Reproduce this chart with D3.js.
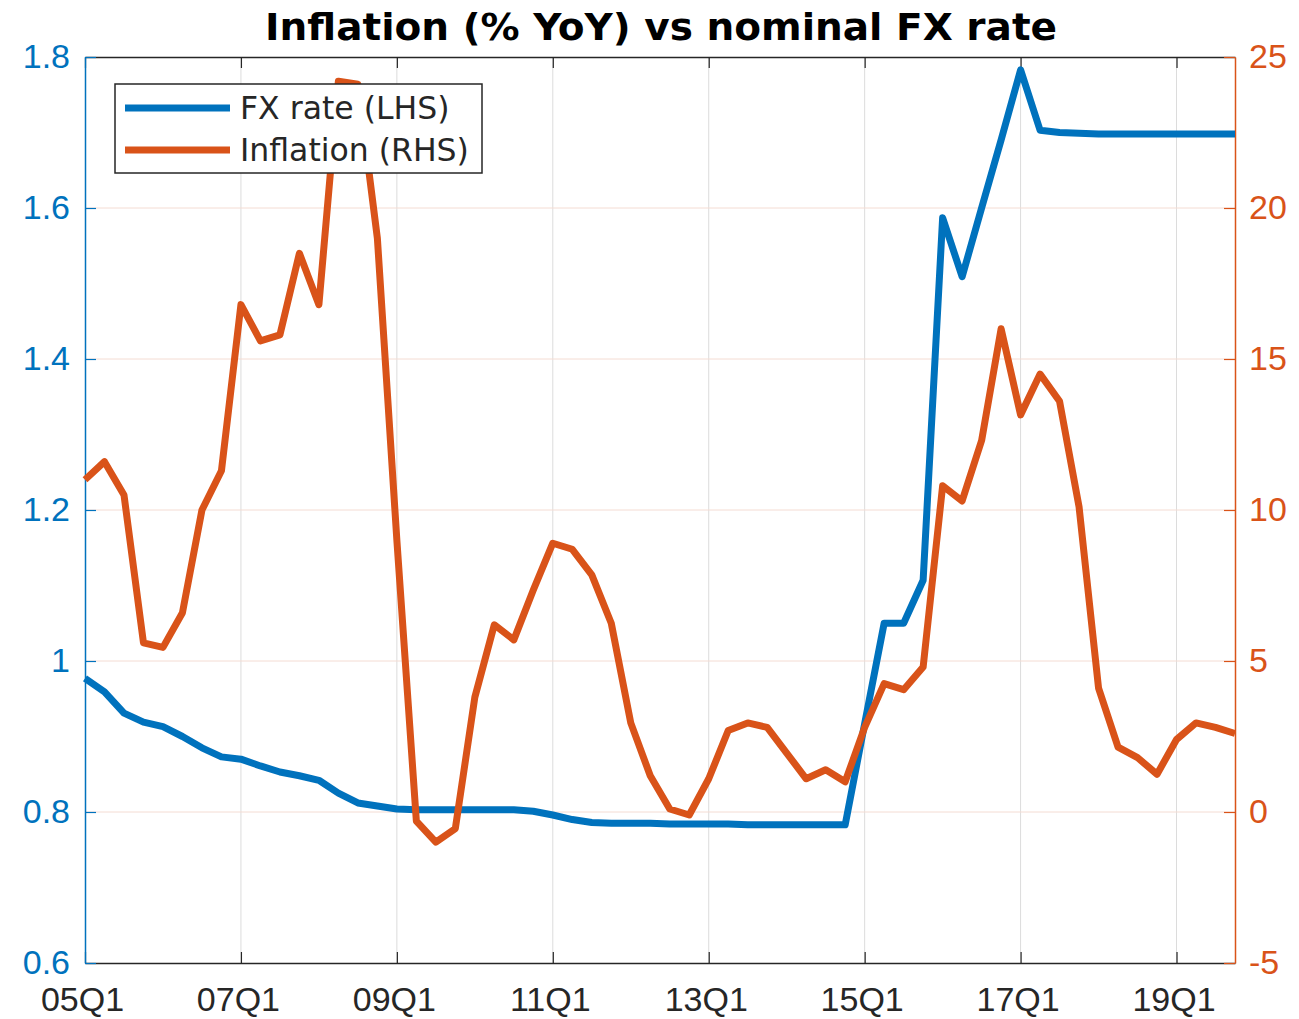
<!DOCTYPE html>
<html>
<head>
<meta charset="utf-8">
<script src="https://cdn.jsdelivr.net/npm/d3@7"></script>
<style>
  body { margin: 0; background: #fff; }
  svg { font-family: 'DejaVu Sans', sans-serif; }
</style>
</head>
<body>
<svg id="chart" width="1299" height="1019"></svg>
<script>
// quarter, FX rate (LHS), inflation % YoY (RHS)
const data = [
  ['05Q1', 0.977, 11.0], ['05Q2', 0.959, 11.6], ['05Q3', 0.931, 10.5], ['05Q4', 0.919, 5.6],
  ['06Q1', 0.913, 5.45], ['06Q2', 0.900, 6.6], ['06Q3', 0.885, 10.0], ['06Q4', 0.873, 11.3],
  ['07Q1', 0.870, 16.8], ['07Q2', 0.861, 15.6], ['07Q3', 0.853, 15.8], ['07Q4', 0.848, 18.5],
  ['08Q1', 0.842, 16.8], ['08Q2', 0.825, 24.2], ['08Q3', 0.812, 24.1], ['08Q4', 0.808, 19.0],
  ['09Q1', 0.804, 9.0], ['09Q2', 0.803, -0.3], ['09Q3', 0.803, -1.0], ['09Q4', 0.803, -0.55],
  ['10Q1', 0.803, 3.8], ['10Q2', 0.803, 6.2], ['10Q3', 0.803, 5.7], ['10Q4', 0.801, 7.35],
  ['11Q1', 0.796, 8.9], ['11Q2', 0.790, 8.7], ['11Q3', 0.786, 7.85], ['11Q4', 0.785, 6.25],
  ['12Q1', 0.785, 2.95], ['12Q2', 0.785, 1.2], ['12Q3', 0.784, 0.1], ['12Q4', 0.784, -0.1],
  ['13Q1', 0.784, 1.1], ['13Q2', 0.784, 2.7], ['13Q3', 0.783, 2.95], ['13Q4', 0.783, 2.8],
  ['14Q1', 0.783, 1.95], ['14Q2', 0.783, 1.1], ['14Q3', 0.783, 1.4], ['14Q4', 0.783, 1.0],
  ['15Q1', 0.917, 2.8], ['15Q2', 1.05, 4.25], ['15Q3', 1.05, 4.05], ['15Q4', 1.107, 4.8],
  ['16Q1', 1.587, 10.8], ['16Q2', 1.509, 10.3], ['16Q3', 1.60, 12.3], ['16Q4', 1.69, 16.0],
  ['17Q1', 1.783, 13.15], ['17Q2', 1.703, 14.5], ['17Q3', 1.700, 13.6], ['17Q4', 1.699, 10.1],
  ['18Q1', 1.698, 4.1], ['18Q2', 1.698, 2.15], ['18Q3', 1.698, 1.8], ['18Q4', 1.698, 1.25],
  ['19Q1', 1.698, 2.4], ['19Q2', 1.698, 2.95], ['19Q3', 1.698, 2.8], ['19Q4', 1.698, 2.6],
].map((d, i) => ({ i, q: d[0], fx: d[1], inf: d[2] }));

const blue = '#0072BD';
const orange = '#D95319';

const svg = d3.select('#chart');
const m = { left: 85, right: 1235, top: 57, bottom: 963 };

const x = d3.scaleLinear().domain([0, data.length - 1]).range([m.left, m.right]);
const yL = d3.scaleLinear().domain([0.6, 1.8]).range([m.bottom, m.top]);
const yR = d3.scaleLinear().domain([-5, 25]).range([m.bottom, m.top]);

const xTicks = data.filter(d => d.i % 8 === 0);

// grid
svg.append('g')
  .selectAll('line')
  .data(xTicks.slice(1))
  .enter()
  .append('line')
  .attr('x1', d => x(d.i)).attr('x2', d => x(d.i))
  .attr('y1', m.top).attr('y2', m.bottom)
  .attr('stroke', '#dcdcdc').attr('stroke-width', 1);

svg.append('g')
  .selectAll('line')
  .data(yR.ticks(6).filter(v => v > -5 && v < 25))
  .enter()
  .append('line')
  .attr('x1', m.left).attr('x2', m.right)
  .attr('y1', d => yR(d)).attr('y2', d => yR(d))
  .attr('stroke', '#f4dcd3').attr('stroke-width', 1);

// axes
const xAxis = d3.axisBottom(x)
  .tickValues(xTicks.map(d => d.i))
  .tickFormat(i => data[i].q)
  .tickSizeInner(-11).tickSizeOuter(0).tickPadding(19);

const gx = svg.append('g')
  .attr('transform', `translate(0, ${m.bottom})`)
  .call(xAxis);
gx.select('.domain').attr('stroke', '#262626').attr('stroke-width', 1.5);
gx.selectAll('.tick line').attr('stroke', '#262626').attr('stroke-width', 1.2);
gx.selectAll('text').attr('fill', '#262626').attr('font-size', 34).attr('dy', '0.85em')
  .attr('transform', 'translate(-3, 0)');

const gxTop = svg.append('g')
  .attr('transform', `translate(0, ${m.top})`)
  .call(d3.axisTop(x).tickValues(xTicks.map(d => d.i)).tickFormat('').tickSizeInner(-11).tickSizeOuter(0));
gxTop.select('.domain').attr('stroke', '#262626').attr('stroke-width', 1.5);
gxTop.selectAll('.tick line').attr('stroke', '#262626').attr('stroke-width', 1.2);

const gl = svg.append('g')
  .attr('transform', `translate(${m.left}, 0)`)
  .call(d3.axisLeft(yL).ticks(6).tickFormat(d3.format('~g')).tickSizeInner(-11).tickSizeOuter(0).tickPadding(15));
gl.select('.domain').attr('stroke', blue).attr('stroke-width', 1.5);
gl.selectAll('.tick line').attr('stroke', blue).attr('stroke-width', 1.2);
gl.selectAll('text').attr('fill', blue).attr('font-size', 34);

const gr = svg.append('g')
  .attr('transform', `translate(${m.right}, 0)`)
  .call(d3.axisRight(yR).ticks(6).tickFormat(d => String(d)).tickSizeInner(-11).tickSizeOuter(0).tickPadding(14));
gr.select('.domain').attr('stroke', orange).attr('stroke-width', 1.5);
gr.selectAll('.tick line').attr('stroke', orange).attr('stroke-width', 1.2);
gr.selectAll('text').attr('fill', orange).attr('font-size', 34);

// lines
svg.append('path')
  .datum(data)
  .attr('fill', 'none')
  .attr('stroke', blue)
  .attr('stroke-width', 7)
  .attr('stroke-linejoin', 'round')
  .attr('d', d3.line().x(d => x(d.i)).y(d => yL(d.fx)));

svg.append('path')
  .datum(data)
  .attr('fill', 'none')
  .attr('stroke', orange)
  .attr('stroke-width', 7)
  .attr('stroke-linejoin', 'round')
  .attr('d', d3.line().x(d => x(d.i)).y(d => yR(d.inf)));

// title
svg.append('text')
  .attr('x', 661)
  .attr('y', 40)
  .attr('text-anchor', 'middle')
  .attr('font-size', 38)
  .attr('font-weight', 'bold')
  .attr('fill', '#000')
  .attr('textLength', 792)
  .attr('lengthAdjust', 'spacingAndGlyphs')
  .text('Inflation (% YoY) vs nominal FX rate');

// legend
const legend = svg.append('g').attr('transform', 'translate(115, 84)');
legend.append('rect')
  .attr('width', 367).attr('height', 89)
  .attr('fill', '#fff')
  .attr('stroke', '#262626').attr('stroke-width', 1.5);

const items = [
  { name: 'FX rate (LHS)', color: blue },
  { name: 'Inflation (RHS)', color: orange },
];

legend.selectAll('line')
  .data(items)
  .enter()
  .append('line')
  .attr('x1', 10).attr('x2', 115)
  .attr('y1', (d, i) => 24 + i * 42).attr('y2', (d, i) => 24 + i * 42)
  .attr('stroke', d => d.color)
  .attr('stroke-width', 7);

legend.selectAll('text')
  .data(items)
  .enter()
  .append('text')
  .attr('x', 125)
  .attr('y', (d, i) => 24 + i * 42)
  .attr('dy', '0.36em')
  .attr('font-size', 31.5)
  .attr('fill', '#262626')
  .text(d => d.name);
</script>
</body>
</html>
